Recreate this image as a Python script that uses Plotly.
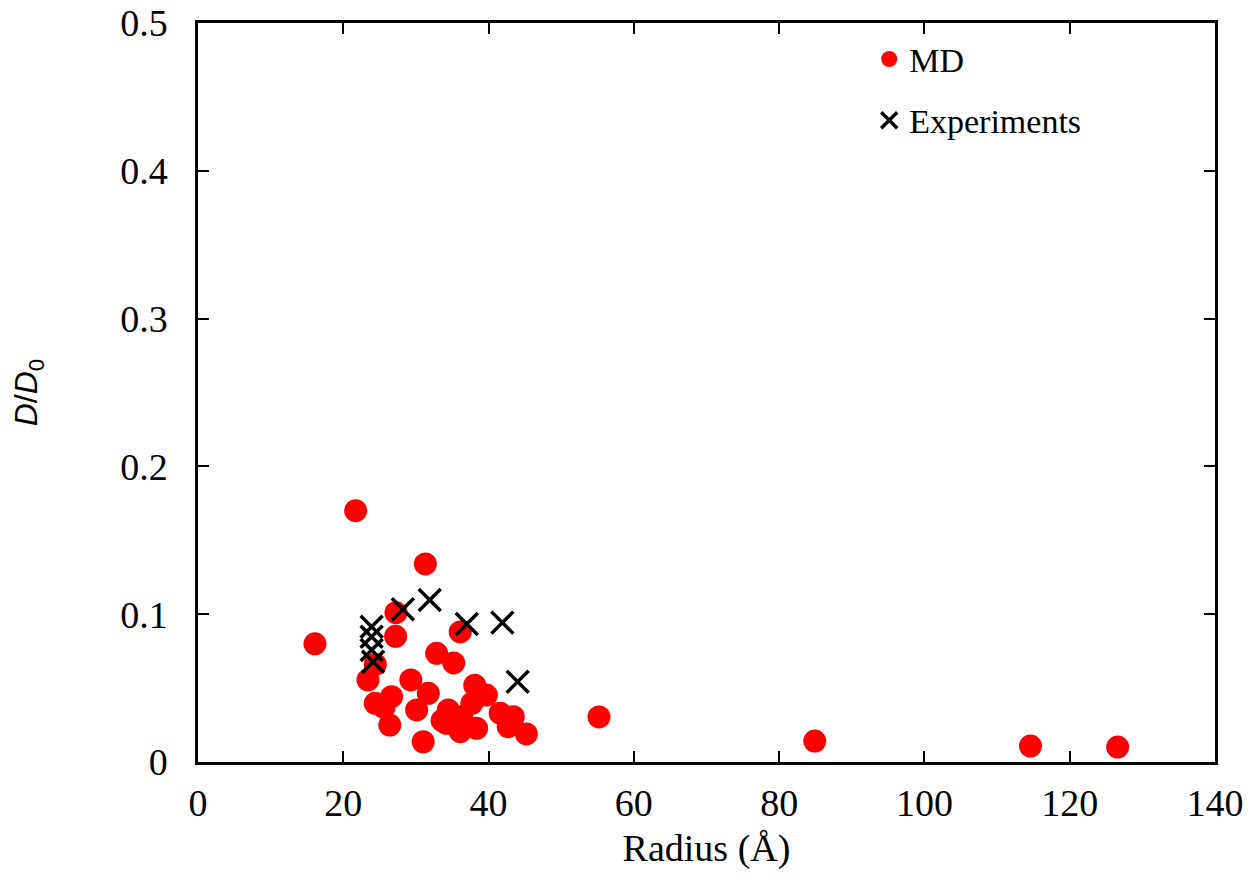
import plotly.graph_objects as go

# MD simulations: radius (Å) and D/D0
md_radius = [21.7, 31.3, 16.1, 27.25, 27.2, 36.1, 32.85, 35.2, 24.4, 23.4, 29.3, 31.7,
             24.4, 26.65, 30.1, 26.4, 31.0, 38.1, 39.7, 34.45, 36.3, 34.2, 36.1, 38.35,
             41.6, 43.4, 42.7, 45.2, 37.7, 25.6, 33.6, 55.2, 84.9, 114.6, 126.6]
md_ratio = [0.170, 0.134, 0.080, 0.101, 0.085, 0.088, 0.0735, 0.067, 0.066, 0.0555,
            0.0555, 0.0465, 0.0397, 0.0442, 0.0352, 0.025, 0.0137, 0.052, 0.0453, 0.0352,
            0.0307, 0.0262, 0.0205, 0.0228, 0.033, 0.0307, 0.0239, 0.019, 0.0397, 0.037,
            0.028, 0.0305, 0.0142, 0.0108, 0.0101]

# Experiments
exp_radius = [23.9, 23.9, 23.9, 24.1, 28.2, 31.9, 37.0, 41.9, 44.0]
exp_ratio = [0.0915, 0.0848, 0.0758, 0.0679, 0.1033, 0.1096, 0.0934, 0.0943, 0.0543]

x_ticks = [0, 20, 40, 60, 80, 100, 120, 140]
y_ticks = [0, 0.1, 0.2, 0.3, 0.4, 0.5]
y_tick_labels = ["0", "0.1", "0.2", "0.3", "0.4", "0.5"]

serif = "Liberation Serif"
sans = "Liberation Sans"

fig = go.Figure()
fig.add_trace(go.Scatter(
    x=md_radius, y=md_ratio, mode="markers", name="MD", legendgroup="md",
    marker=dict(symbol="circle", size=23, color="#ff0000", line=dict(width=0)),
))
fig.add_trace(go.Scatter(
    x=exp_radius, y=exp_ratio, mode="markers", name="Experiments", legendgroup="exp",
    marker=dict(symbol="x-thin", size=22, color="black", line=dict(width=3.5, color="black")),
))

axis_common = dict(
    showline=True, linecolor="black", linewidth=2.5, mirror="ticks",
    ticks="inside", ticklen=11, tickwidth=2, tickcolor="black",
    showgrid=False, zeroline=False, automargin=False, ticklabeloverflow="allow",
    tickfont=dict(family=serif, size=38, color="black"),
)

fig.update_layout(
    width=1255, height=881,
    paper_bgcolor="white", plot_bgcolor="white",
    margin=dict(l=190, r=48, t=15, b=127),
    xaxis=dict(range=[0, 140], tickvals=x_ticks, ticklabelstandoff=6,
               title=dict(text="Radius (Å)", font=dict(family=serif, size=38, color="black"),
                          standoff=12),
               **axis_common),
    yaxis=dict(range=[0, 0.5], tickvals=y_ticks, ticktext=y_tick_labels, ticklabelstandoff=20,
               title=dict(text="<i>D</i>/<i>D</i><sub>0</sub>",
                          font=dict(family=sans, size=32, color="black"), standoff=76),
               **axis_common),
    showlegend=True,
    legend=dict(x=0.66, y=0.99, xanchor="left", yanchor="top",
                bgcolor="rgba(0,0,0,0)", tracegroupgap=14, traceorder="grouped",
                font=dict(family=serif, size=34, color="black"),
                itemsizing="trace"),
)

fig.write_html("out.html")
